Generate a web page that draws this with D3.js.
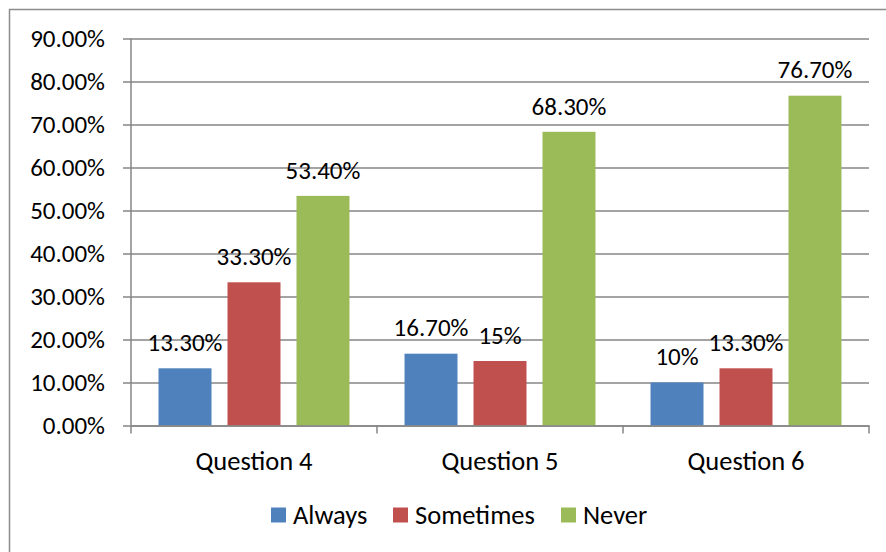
<!DOCTYPE html>
<html>
<head>
<meta charset="utf-8">
<script src="https://cdn.jsdelivr.net/npm/d3@7"></script>
<style>
  html, body { margin: 0; padding: 0; background: #fff; }
  svg { display: block; font-family: Carlito, Lato, "Open Sans", sans-serif; }
</style>
</head>
<body>
<svg id="chart" width="886" height="552"></svg>
<script>
// Survey responses per question (percent)
const categories = ["Question 4", "Question 5", "Question 6"];
const seriesNames = ["Always", "Sometimes", "Never"];
const seriesColors = ["#4F81BD", "#C0504D", "#9BBB59"];
const always = [13.3, 16.7, 10];
const sometimes = [33.3, 15, 13.3];
const never = [53.4, 68.3, 76.7];
const valueLabels = [
  ["13.30%", "16.70%", "10%"],
  ["33.30%", "15%", "13.30%"],
  ["53.40%", "68.30%", "76.70%"]
];
const yTicks = [0, 10, 20, 30, 40, 50, 60, 70, 80, 90];

const seriesValues = [always, sometimes, never];

const svg = d3.select("#chart");
const plotLeft = 131, plotRight = 869, plotTop = 38.5, plotBottom = 425.5;
const gridColor = "#868686";
const fontStack = "Carlito, Lato, 'Open Sans', sans-serif";
const numSize = 25, wordSize = 26.5;

// Outer chart frame
svg.append("rect")
  .attr("x", 9.5).attr("y", 9.5)
  .attr("width", 900).attr("height", 600)
  .attr("fill", "none").attr("stroke", "#8c8c8c").attr("stroke-width", 1.5);

const y = d3.scaleLinear().domain([0, 90]).range([plotBottom, plotTop]);
const x = d3.scaleBand().domain(categories).range([plotLeft, plotRight]).padding(0);
const xSub = d3.scaleBand().domain(seriesNames)
  .range([0, x.bandwidth()])
  .paddingInner(0.232).paddingOuter(0.399);

// Horizontal gridlines with outward ticks
const yAxis = d3.axisLeft(y)
  .tickValues(yTicks)
  .tickSize(-(plotRight - plotLeft))
  .tickSizeOuter(0)
  .tickPadding(26)
  .tickFormat(d => d.toFixed(2) + "%");

const gy = svg.append("g").attr("transform", `translate(${plotLeft},0)`).call(yAxis);
gy.select(".domain").remove();
gy.selectAll(".tick line")
  .attr("x1", -8)
  .attr("stroke", gridColor).attr("stroke-width", 1.5);
gy.selectAll(".tick text")
  .attr("x", -26)
  .attr("font-size", numSize).attr("fill", "#000")
  .attr("font-family", fontStack);

// Bars
const groups = svg.append("g").selectAll("g")
  .data(seriesNames)
  .join("g")
  .attr("fill", (d, i) => seriesColors[i]);

const cells = (s, si) => categories.map((c, ci) => ({ c, s, si, ci, v: seriesValues[si][ci] }));

groups.selectAll("rect")
  .data(cells)
  .join("rect")
  .attr("x", d => x(d.c) + xSub(d.s))
  .attr("y", d => y(d.v))
  .attr("width", xSub.bandwidth())
  .attr("height", d => y(0) - y(d.v));

// Value labels above bars
groups.selectAll("text")
  .data(cells)
  .join("text")
  .attr("x", d => x(d.c) + xSub(d.s) + xSub.bandwidth() / 2)
  .attr("y", d => y(d.v) - 26)
  .attr("dy", "0.35em")
  .attr("text-anchor", "middle")
  .attr("font-size", numSize)
  .attr("fill", "#000")
  .text(d => valueLabels[d.si][d.ci]);

// Vertical axis line
svg.append("line")
  .attr("x1", plotLeft).attr("x2", plotLeft)
  .attr("y1", plotTop).attr("y2", plotBottom)
  .attr("stroke", gridColor).attr("stroke-width", 1.5);

// Category axis with boundary ticks
const xAxis = d3.axisBottom(x).tickSize(0).tickPadding(26);
const gx = svg.append("g").attr("transform", `translate(0,${plotBottom})`).call(xAxis);
gx.select(".domain").attr("stroke", gridColor).attr("stroke-width", 1.5);
gx.selectAll(".tick text")
  .attr("font-size", wordSize).attr("fill", "#000")
  .attr("font-family", fontStack);
const boundaries = categories.map(c => x(c)).concat([plotRight]);
svg.append("g").selectAll("line")
  .data(boundaries)
  .join("line")
  .attr("x1", d => d).attr("x2", d => d)
  .attr("y1", plotBottom).attr("y2", plotBottom + 8)
  .attr("stroke", gridColor).attr("stroke-width", 1.5);

// Legend
const legendX = [271, 393, 561];
const legend = svg.append("g").selectAll("g")
  .data(seriesNames)
  .join("g")
  .attr("transform", (d, i) => `translate(${legendX[i]},${507.5})`);
legend.append("rect")
  .attr("width", 15).attr("height", 15)
  .attr("fill", (d, i) => seriesColors[i]);
legend.append("text")
  .attr("x", 22).attr("y", 7.5).attr("dy", "0.35em")
  .attr("font-size", wordSize).attr("fill", "#000")
  .text(d => d);
</script>
</body>
</html>
